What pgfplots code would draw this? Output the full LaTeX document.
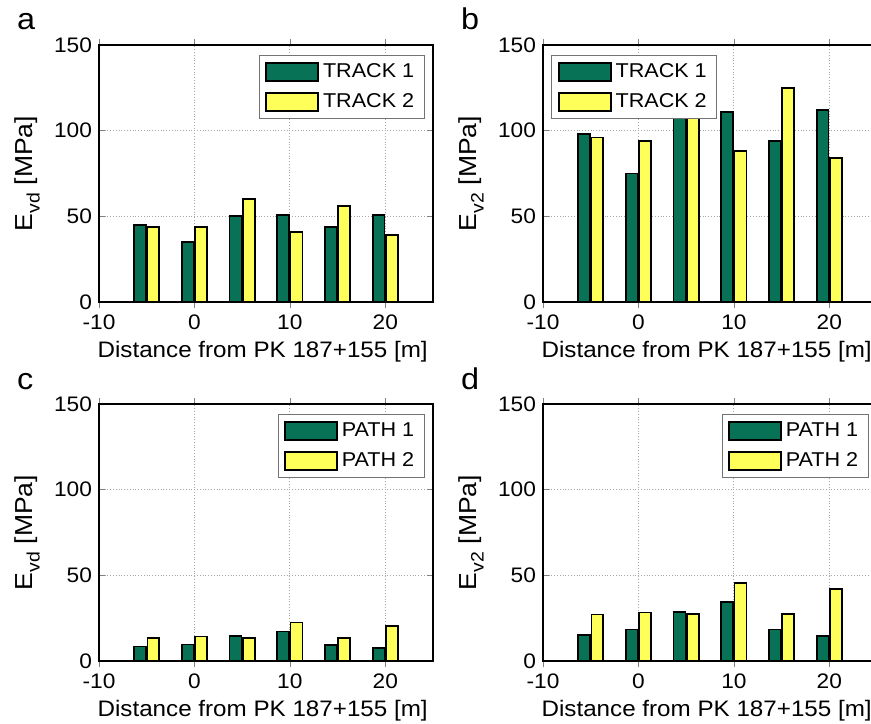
\documentclass[border=0pt]{standalone}
\usepackage{fontspec}
\setmainfont{Liberation Sans}[FakeStretch=1.08]
\usepackage{pgfplots}
\pgfplotsset{compat=1.18}
\definecolor{dgreen}{RGB}{8,114,86}
\definecolor{lyellow}{RGB}{255,255,90}
\newcommand{\sub}[1]{\raisebox{-0.55ex}{\fontsize{9}{10}\selectfont #1}}
\pgfplotsset{
  panel/.style={
    scale only axis, width=167pt, height=128.5pt,
    xmin=-10, xmax=25, ymin=0, ymax=150,
    xtick={-10,0,10,20}, ytick={0,50,100,150},
    tick align=inside, major tick length=3pt,
    xtick pos=both, ytick pos=both,
    grid=major, major grid style={densely dotted, gray!70, line width=0.4pt},
    axis line style={line width=0.6pt},
    /pgf/number format/assume math mode=true,
    tick label style={font=\fontsize{10.5}{12}\selectfont},
    xlabel style={font=\fontsize{11.2}{13}\selectfont},
    ylabel style={font=\fontsize{12.3}{14}\selectfont},
    xlabel={Distance from PK 187+155 [m]},
    xlabel style={at={(axis description cs:0.49,-0.214)}, anchor=base},
    ylabel style={at={(axis description cs:-0.215,0.5)}, anchor=center},
    ybar, bar width=1.25,
    legend style={font=\fontsize{10}{11}\selectfont, draw=black!55, line width=0.4pt,
      fill=white, inner xsep=3pt, inner ysep=2pt, row sep=2.5pt, cells={anchor=west}},
    legend image code/.code={\draw[#1] (0pt,-4.5pt) rectangle (26pt,4.5pt);},
  },
  s1/.style={fill=dgreen, draw=black, line width=0.9pt, bar shift=-0.7},
  s2/.style={fill=lyellow, draw=black, line width=0.9pt, bar shift=0.7},
}
\begin{document}
\begin{tikzpicture}
% a
\begin{axis}[panel, at={(49.5pt,210.5pt)}, anchor=south west,
  ylabel={E\sub{vd} [MPa]},
  legend style={at={(0.975,0.96)}, anchor=north east}]
\addplot[s1] coordinates {(-5,45) (0,35) (5,50) (10,51) (15,44) (20,51)};
\addplot[s2] coordinates {(-5,44) (0,44) (5,60) (10,41) (15,56) (20,39)};
\legend{TRACK 1, TRACK 2}
\end{axis}
% b
\begin{axis}[panel, at={(271.5pt,210.5pt)}, anchor=south west,
  ylabel={E\sub{v2} [MPa]},
  legend style={at={(0.025,0.96)}, anchor=north west}]
\addplot[s1] coordinates {(-5,98) (0,75) (5,108) (10,111) (15,94) (20,112)};
\addplot[s2] coordinates {(-5,96) (0,94) (5,112) (10,88) (15,125) (20,84)};
\legend{TRACK 1, TRACK 2}
\end{axis}
% c
\begin{axis}[panel, at={(49.5pt,31pt)}, anchor=south west,
  ylabel={E\sub{vd} [MPa]},
  legend style={at={(0.975,0.96)}, anchor=north east}]
\addplot[s1] coordinates {(-5,8.5) (0,9.6) (5,14.5) (10,17.2) (15,9.4) (20,7.6)};
\addplot[s2] coordinates {(-5,13.5) (0,14.3) (5,13.5) (10,22.5) (15,13.5) (20,20.3)};
\legend{PATH 1, PATH 2}
\end{axis}
% d
\begin{axis}[panel, at={(271.5pt,31pt)}, anchor=south west,
  ylabel={E\sub{v2} [MPa]},
  legend style={at={(0.975,0.96)}, anchor=north east}]
\addplot[s1] coordinates {(-5,15.2) (0,18.4) (5,28.5) (10,34.4) (15,18.4) (20,14.5)};
\addplot[s2] coordinates {(-5,27.1) (0,28.3) (5,27.3) (10,45.5) (15,27.3) (20,42.2)};
\legend{PATH 1, PATH 2}
\end{axis}
\node[anchor=base west, font=\fontsize{15}{17}\selectfont] at (5pt,346.5pt) {a};
\node[anchor=base west, font=\fontsize{15}{17}\selectfont] at (227pt,346.5pt) {b};
\node[anchor=base west, font=\fontsize{15}{17}\selectfont] at (5pt,166.5pt) {c};
\node[anchor=base west, font=\fontsize{15}{17}\selectfont] at (227pt,166.5pt) {d};
\pgfresetboundingbox
\path[use as bounding box] (0pt,0pt) rectangle (435.5pt,361.5pt);
\end{tikzpicture}
\end{document}
